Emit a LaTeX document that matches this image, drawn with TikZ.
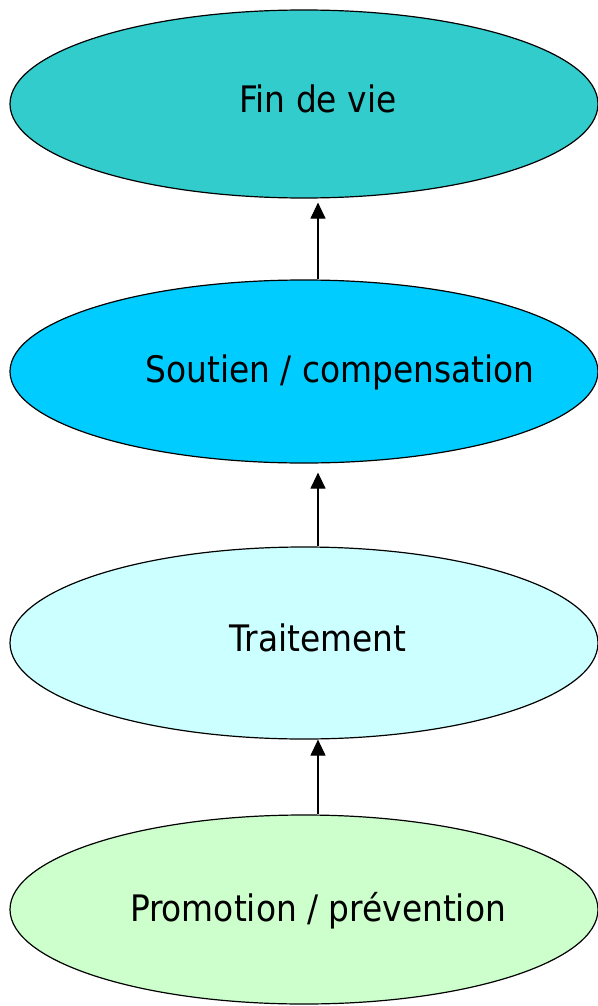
\documentclass[tikz,border=0pt]{standalone}
\usepackage{fontspec}
\setmainfont{DejaVu Sans Condensed}
\usetikzlibrary{shapes.geometric,arrows.meta}
\definecolor{finvie}{HTML}{33CCCC}
\definecolor{soutien}{HTML}{00CCFF}
\definecolor{traitement}{HTML}{CCFFFF}
\definecolor{promotion}{HTML}{CCFFCC}
\begin{document}
\begin{tikzpicture}[x=1pt,y=-1pt,line width=1.2pt,
	etage/.style={ellipse, draw, minimum width=588pt, inner sep=0pt},
	titre/.style={anchor=base, font=\fontsize{36.5}{40}\selectfont},
	fleche/.style={-{Triangle[width=15pt,length=16pt]}}]
	\useasboundingbox (0,0) rectangle (597,1006);
	\node (E1) at (304, 104)	[etage, minimum height=188pt, fill=finvie]	{};
	\node (E2) at (304, 371.5)	[etage, minimum height=183pt, fill=soutien]	{};
	\node (E3) at (304, 643)	[etage, minimum height=192pt, fill=traitement]	{};
	\node (E4) at (304, 909.5)	[etage, minimum height=189pt, fill=promotion]	{};
	\node (T1) at (318, 112.7)	[titre]	{Fin de vie};
	\node (T2) at (340, 382.7)	[titre]	{Soutien / compensation};
	\node (T3) at (318, 651.7)	[titre]	{Traitement};
	\node (T4) at (318, 921)	[titre]	{Promotion / prévention};
	\draw[fleche] ([xshift=14pt]E2.north) -- ([xshift=14pt,yshift=-4pt]E1.south);
	\draw[fleche] ([xshift=14pt]E3.north) -- ([xshift=14pt,yshift=-9pt]E2.south);
	\draw[fleche] ([xshift=14pt]E4.north) -- ([xshift=14pt]E3.south);
\end{tikzpicture}
\end{document}
